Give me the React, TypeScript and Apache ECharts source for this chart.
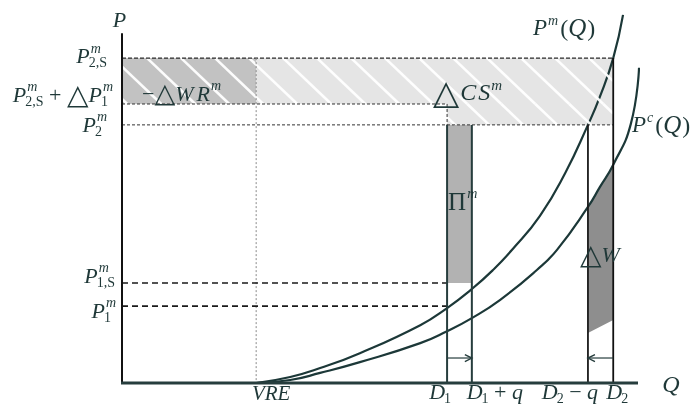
import React, { useEffect, useRef } from 'react';
import * as echarts from 'echarts';

// ---- data (Q and P in the chart's own units) ----
// quantities: VRE, D1, D1+q, D2−q, D2
const quantityMarks = [26, 63, 67.8, 90.3, 95.2];
// prices: P2S, P2S+ΔP1, P2, P1S, P1
const priceMarks = [87.1, 74.8, 69.2, 26.8, 20.6];
// monopoly price curve P^m(Q)
const pmQ = [26, 32.6, 38.4, 46.1, 57.8, 63, 67.8, 71.9, 75.6, 81, 85.9, 90.3, 92.6, 95.2, 97.1];
const pmP = [0, 1.6, 4, 8, 15.5, 20.1, 25.2, 30.3, 35.7, 44.8, 56.3, 69.2, 76.7, 87.1, 98.7];
// competitive price curve P^c(Q)
const pcQ = [26, 32.6, 38.4, 46.1, 57.8, 63, 67.8, 73.3, 80.4, 84.3, 90.3, 92.6, 95.2, 98.6, 100.2];
const pcP = [0, 0.8, 2.7, 5.6, 10.7, 13.9, 17.4, 22.3, 30.3, 35.7, 47.2, 52.5, 58.5, 69.4, 84.5];
// welfare-loss area ΔW
const welfareQ = [90.3, 92.6, 95.2, 95.2, 90.3];
const welfareP = [47.2, 52.5, 58.5, 16.9, 13.4];
const axisTopP = 93.8;
const arrowP = 6.7;

const FF = "'Liberation Serif', 'Times New Roman', 'DejaVu Serif', serif";
const TXT = '#1f3838';
const LINE = '#263d3d';

let mctx: CanvasRenderingContext2D | null = null;
function measure(text: string, font: string) {
  if (!mctx) mctx = document.createElement('canvas').getContext('2d');
  mctx!.font = font;
  return mctx!.measureText(text).width;
}

type Tok = { t?: string; i?: boolean; s?: number; dx?: number; sup?: string; sub?: string; subI?: boolean };

function math(tokens: Tok[], x: number, y: number, anchor: 'left' | 'right' | 'center', base = 22) {
  const items: { text: string; font: string; x: number; y: number }[] = [];
  let cx = 0;
  for (const tk of tokens) {
    if (tk.t !== undefined) {
      const size = tk.s ?? base;
      const font = `${tk.i ? 'italic ' : ''}${size}px ${FF}`;
      cx += tk.dx ?? 0;
      items.push({ text: tk.t, font, x: cx, y: 0 });
      cx += measure(tk.t, font);
    } else {
      const size = tk.s ?? 14;
      let w = 0;
      if (tk.sup) {
        const f = `italic ${size}px ${FF}`;
        items.push({ text: tk.sup, font: f, x: cx + 1, y: -7.5 });
        w = Math.max(w, measure(tk.sup, f) + 1);
      }
      if (tk.sub) {
        const f = `${tk.subI ? 'italic ' : ''}${size}px ${FF}`;
        items.push({ text: tk.sub, font: f, x: cx - 1, y: 7 });
        w = Math.max(w, measure(tk.sub, f) - 1);
      }
      cx += w;
    }
  }
  const off = anchor === 'left' ? 0 : anchor === 'right' ? -cx : -cx / 2;
  return items.map((it) => ({
    type: 'text',
    x: x + off + it.x,
    y: y + it.y,
    style: {
      text: it.text,
      font: it.font,
      fill: TXT,
      align: 'left',
      verticalAlign: 'middle',
      textAlign: 'left',
      textVerticalAlign: 'middle',
    },
  }));
}

function line(a: number[], b: number[], style: any) {
  return { type: 'line', shape: { x1: a[0], y1: a[1], x2: b[0], y2: b[1] }, style };
}

function hatch(x0: number, y0: number, x1: number, y1: number) {
  const a = 1.05; // dx per dy
  const sp = 34;
  const phase = 147 - 58 * a;
  const out: any[] = [];
  const cmin = x0 - a * y1;
  const cmax = x1 - a * y0;
  let n = Math.ceil((cmin - phase) / sp);
  for (let c = phase + n * sp; c <= cmax; c += sp) {
    const ya = Math.max(y0, (x0 - c) / a);
    const yb = Math.min(y1, (x1 - c) / a);
    if (yb > ya) {
      out.push(line([c + a * ya, ya], [c + a * yb, yb], { stroke: 'rgba(255,255,255,0.95)', lineWidth: 2.6 }));
    }
  }
  return out;
}

function rectPx(api: any, q0: number, p0: number, q1: number, p1: number) {
  const a = api.coord([q0, p0]);
  const b = api.coord([q1, p1]);
  return { x0: Math.min(a[0], b[0]), y0: Math.min(a[1], b[1]), x1: Math.max(a[0], b[0]), y1: Math.max(a[1], b[1]) };
}

export default function App() {
  const ref = useRef<HTMLDivElement>(null);
  useEffect(() => {
    const chart = echarts.init(ref.current!, undefined, { renderer: 'svg' });
    const [VRE, D1, D1q, D2q, D2] = quantityMarks;
    const [P2S, P2Sd, P2, P1S, P1] = priceMarks;

    const background = (params: any, api: any) => {
      const dark = rectPx(api, 0, P2S, VRE, P2Sd);
      const l1 = rectPx(api, VRE, P2S, D2, P2Sd);
      const l2 = rectPx(api, D1, P2Sd, D2, P2);
      const pi = rectPx(api, D1, P2, D1q, P1S);
      const r = (o: any, fill: string) => ({ type: 'rect', shape: { x: o.x0, y: o.y0, width: o.x1 - o.x0, height: o.y1 - o.y0 }, style: { fill } });
      return {
        type: 'group',
        children: [
          r(dark, '#c2c2c2'),
          r(l1, '#e5e5e5'),
          r(l2, '#e5e5e5'),
          r(pi, '#b2b2b2'),
          { type: 'polygon', shape: { points: welfareQ.map((q, i) => api.coord([q, welfareP[i]])) }, style: { fill: '#8e8e8e' } },
        ],
      };
    };

    const foreground = (params: any, api: any) => {
      const c = (q: number, p: number) => api.coord([q, p]);
      const dark = rectPx(api, 0, P2S, VRE, P2Sd);
      const l1 = rectPx(api, VRE, P2S, D2, P2Sd);
      const l2 = rectPx(api, D1, P2Sd, D2, P2);
      const children: any[] = [];
      children.push(...hatch(dark.x0, dark.y0, dark.x1, dark.y1));
      children.push(...hatch(l1.x0, l1.y0, l1.x1, l1.y1));
      children.push(...hatch(l2.x0, l2.y0, l2.x1, l2.y1));
      const fine = { stroke: '#333', lineWidth: 1, lineDash: [3, 2] };
      children.push(line(c(0, P2S), c(D2, P2S), { stroke: '#2a2a2a', lineWidth: 1.2, lineDash: [4, 2] }));
      children.push(line(c(0, P2Sd), c(D1, P2Sd), fine));
      children.push(line(c(D1, P2Sd), c(D1, P2), fine));
      children.push(line(c(0, P2), c(D2, P2), fine));
      children.push(line(c(VRE, P2S), c(VRE, 0), { stroke: '#8a8a8a', lineWidth: 1, lineDash: [2, 2] }));
      const heavy = { stroke: '#1a1a1a', lineWidth: 1.6, lineDash: [6, 4] };
      children.push(line(c(0, P1S), c(D1, P1S), heavy));
      children.push(line(c(0, P1), c(D1, P1), heavy));
      // verticals
      children.push(line(c(D1, 0), c(D1, P2), { stroke: LINE, lineWidth: 2 }));
      children.push(line(c(D1q, 0), c(D1q, P2), { stroke: LINE, lineWidth: 2 }));
      children.push(line(c(D2q, 0), c(D2q, P2), { stroke: '#1a1a1a', lineWidth: 1.8 }));
      children.push(line(c(D2, 0), c(D2, P2S), { stroke: '#111', lineWidth: 1.8 }));
      // axes
      children.push(line(c(0, 0), c(0, axisTopP), { stroke: '#111', lineWidth: 2 }));
      const xa = c(0, 0);
      const xe = c(100, 0);
      children.push(line([xa[0] - 1, xa[1]], [xe[0], xa[1]], { stroke: LINE, lineWidth: 3 }));
      // arrows
      const arrow = (from: number[], to: number[]) => {
        const dir = Math.sign(to[0] - from[0]);
        return [
          line(from, to, { stroke: LINE, lineWidth: 1.2 }),
          { type: 'polyline', shape: { points: [[to[0] - dir * 7, to[1] - 3.5], to, [to[0] - dir * 7, to[1] + 3.5]] }, style: { stroke: LINE, lineWidth: 1.4, fill: null } },
        ];
      };
      children.push(...arrow(c(D1, arrowP), c(D1q, arrowP)));
      children.push(...arrow(c(D2, arrowP), c(D2q, arrowP)));

      // labels
      const yP = (p: number) => c(0, p)[1];
      const xQ = (q: number) => c(q, 0)[0];
      const P = { t: 'P', i: true };
      children.push(...math([P], xQ(0) - 2.5, 19.5, 'center'));
      children.push(...math([P, { sup: 'm', sub: '2,S' }], xQ(0) - 15, yP(P2S) - 2.4, 'right'));
      children.push(...math([P, { sup: 'm', sub: '2,S' }, { t: ' + ' }, { t: '△', s: 28 }, P, { sup: 'm', sub: '1' }], xQ(0) - 9, yP(P2Sd) - 9.7, 'right'));
      children.push(...math([P, { sup: 'm', sub: '2' }], xQ(0) - 15, yP(P2) - 0.7, 'right'));
      children.push(...math([P, { sup: 'm', sub: '1,S' }], xQ(0) - 7, yP(P1S) - 8, 'right'));
      children.push(...math([P, { sup: 'm', sub: '1' }], xQ(0) - 6, yP(P1) + 4, 'right'));
      children.push(...math([{ t: '−' }, { t: '△', s: 27 }, { t: 'W', i: true }, { t: 'R', i: true, dx: 3 }, { sup: 'm' }], 142, 93, 'left'));
      children.push(...math([{ t: '△', s: 34 }, { t: 'C', i: true, s: 24, dx: 1 }, { t: 'S', i: true, s: 24, dx: 2 }, { sup: 'm', s: 15 }], 433, 92, 'left'));
      children.push(...math([{ t: 'Π', s: 25 }, { sup: 'm' }], xQ(D1) + 1, 201, 'left'));
      children.push(...math([{ t: '△', s: 28 }, { t: 'W', i: true }], xQ(D2q) - 8, 254, 'left'));
      children.push(...math([{ t: 'P', i: true, s: 23 }, { sup: 'm' }, { t: '(', s: 24, dx: 2 }, { t: 'Q', i: true, s: 25 }, { t: ')', s: 24, dx: 1 }], 533, 27.5, 'left'));
      children.push(...math([{ t: 'P', i: true, s: 23 }, { sup: 'c' }, { t: '(', s: 24, dx: 2 }, { t: 'Q', i: true, s: 25 }, { t: ')', s: 24, dx: 1 }], 632, 124.5, 'left'));
      children.push(...math([{ t: 'Q', i: true, s: 24 }], 671, 384, 'center'));
      const by = 391;
      children.push(...math([{ t: 'VRE', i: true, s: 21 }], xQ(VRE) + 15, by + 1.5, 'center'));
      children.push(...math([{ t: 'D', i: true }, { sub: '1' }], xQ(D1) - 7, by, 'center'));
      children.push(...math([{ t: 'D', i: true }, { sub: '1' }, { t: ' + ' }, { t: 'q', i: true }], xQ(D1q) + 23, by, 'center'));
      children.push(...math([{ t: 'D', i: true }, { sub: '2' }, { t: ' − ' }, { t: 'q', i: true }], xQ(D2q) - 18, by, 'center'));
      children.push(...math([{ t: 'D', i: true }, { sub: '2' }], xQ(D2) + 4, by, 'center'));
      return { type: 'group', children };
    };

    chart.setOption({
      animation: false,
      grid: { left: 122, right: 58, top: 10, bottom: 21 },
      xAxis: { type: 'value', min: 0, max: 100, show: false },
      yAxis: { type: 'value', min: 0, max: 100, show: false },
      series: [
        { type: 'custom', renderItem: background, data: [[0, 0]], silent: true, z: 1 },
        {
          type: 'line', data: pmQ.map((q, i) => [q, pmP[i]]), symbol: 'none', smooth: 0.5,
          clip: false, lineStyle: { color: '#1c3838', width: 2.2 }, z: 2, silent: true,
        },
        {
          type: 'line', data: pcQ.map((q, i) => [q, pcP[i]]), symbol: 'none', smooth: 0.5,
          clip: false, lineStyle: { color: '#1c3838', width: 2.2 }, z: 2, silent: true,
        },
        { type: 'custom', renderItem: foreground, data: [[0, 0]], silent: true, z: 3, clip: false },
      ],
    });
    return () => chart.dispose();
  }, []);
  return <div ref={ref} style={{ position: 'fixed', left: 0, top: 0, width: 696, height: 404 }} />;
}
